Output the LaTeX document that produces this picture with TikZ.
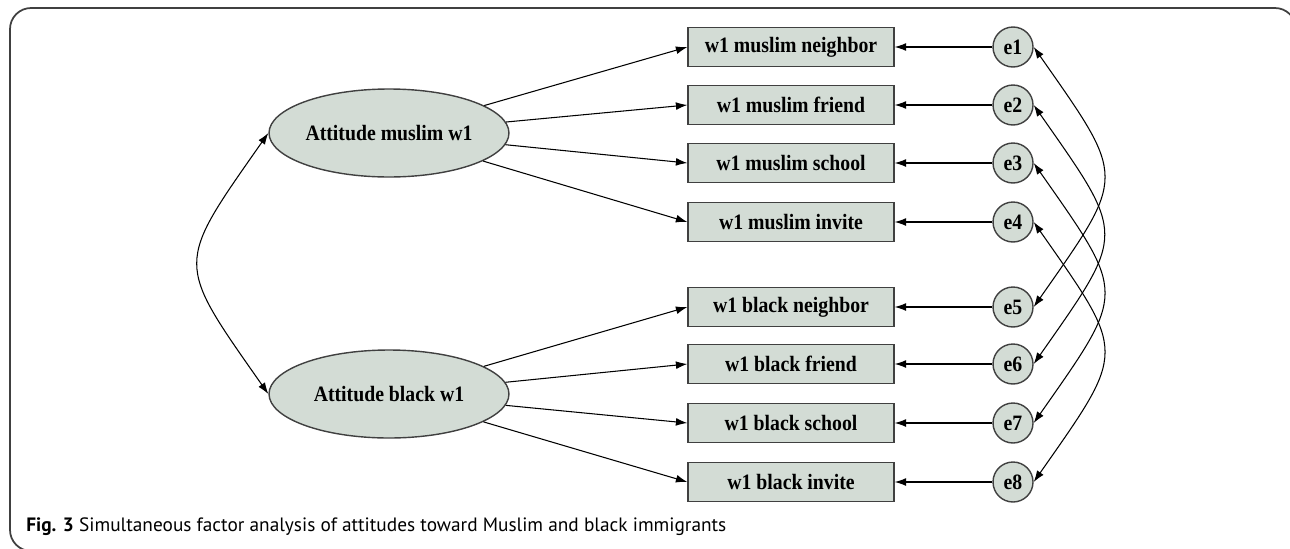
\documentclass[tikz,border=0pt]{standalone}
\usepackage{fontspec}
\setmainfont{Liberation Serif}
\newfontfamily\semfont[FakeStretch=0.9]{Liberation Serif}
\newfontfamily\capfont{PT Sans}
\usepackage{xcolor}
\usetikzlibrary{shapes.geometric}
\usetikzlibrary{arrows.meta}
\definecolor{semfill}{RGB}{211,220,213}
\definecolor{semline}{RGB}{64,64,64}
\tikzset{
  obs/.style={rectangle,draw=semline,fill=semfill,line width=0.8pt,minimum width=4.12cm,minimum height=0.78cm,inner sep=0pt,font=\semfont\bfseries\fontsize{12.5}{14}\selectfont},
  err/.style={circle,draw=semline,fill=semfill,line width=0.8pt,minimum size=0.8cm,inner sep=0pt,font=\semfont\bfseries\fontsize{12.5}{14}\selectfont},
  lat/.style={ellipse,draw=semline,fill=semfill,line width=0.8pt,minimum width=4.8cm,minimum height=1.76cm,inner sep=0pt,font=\semfont\bfseries\fontsize{12.5}{14}\selectfont},
  load/.style={draw,line width=0.6pt,-{Latex[length=6.5pt,width=4.5pt]}},
  cov/.style={draw,line width=0.6pt,{Latex[length=6.5pt,width=4.5pt]}-{Latex[length=6.5pt,width=4.5pt]}},
}
\begin{document}
\begin{tikzpicture}[x=0.02cm,y=0.02cm]
  \clip (0,0) rectangle (1290,-548);
  % frame
  \draw[semline,line width=1pt,rounded corners=12] (80,-551) -- (10,-551) -- (10,-8) -- (1296,-8) -- (1296,-80);
  % latent factors
  \node[lat] (lm) at (389,-133) {Attitude muslim w1};
  \node[lat] (lb) at (389,-394) {Attitude black w1};
  % indicators and errors
  \foreach \y/\alph/\name in {
      47/1/w1 muslim neighbor,
      105/2/w1 muslim friend,
      163/3/w1 muslim school,
      222/4/w1 muslim invite,
      307/5/w1 black neighbor,
      364/6/w1 black friend,
      423/7/w1 black school,
      482/8/w1 black invite
  }{
    \node[obs] (b\alph) at (791,-\y) {\name};
    \node[err] (e\alph) at (1013,-\y) {e\alph};
    \draw[load] (e\alph) -- (b\alph);
  }
  \foreach \i in {1,...,4}
    \draw[load] (lm) -- (b\i.west);
  \foreach \i in {5,...,8}
    \draw[load] (lb) -- (b\i.west);
  % covariances
  \draw[cov] (lm.west) to[out=235,in=125,looseness=1.6] (lb.west);
  \foreach \i/\j in {1/5,2/6,3/7,4/8}
    \draw[cov] (e\i.east) to[out=-55,in=55,looseness=1.6] (e\j.east);
  % caption
  \node[anchor=base west,inner sep=0pt,font=\capfont\fontsize{11}{13}\selectfont] (cap) at (26,-531)
    {\textbf{Fig. 3} Simultaneous factor analysis of attitudes toward Muslim and black immigrants};
\end{tikzpicture}
\end{document}
